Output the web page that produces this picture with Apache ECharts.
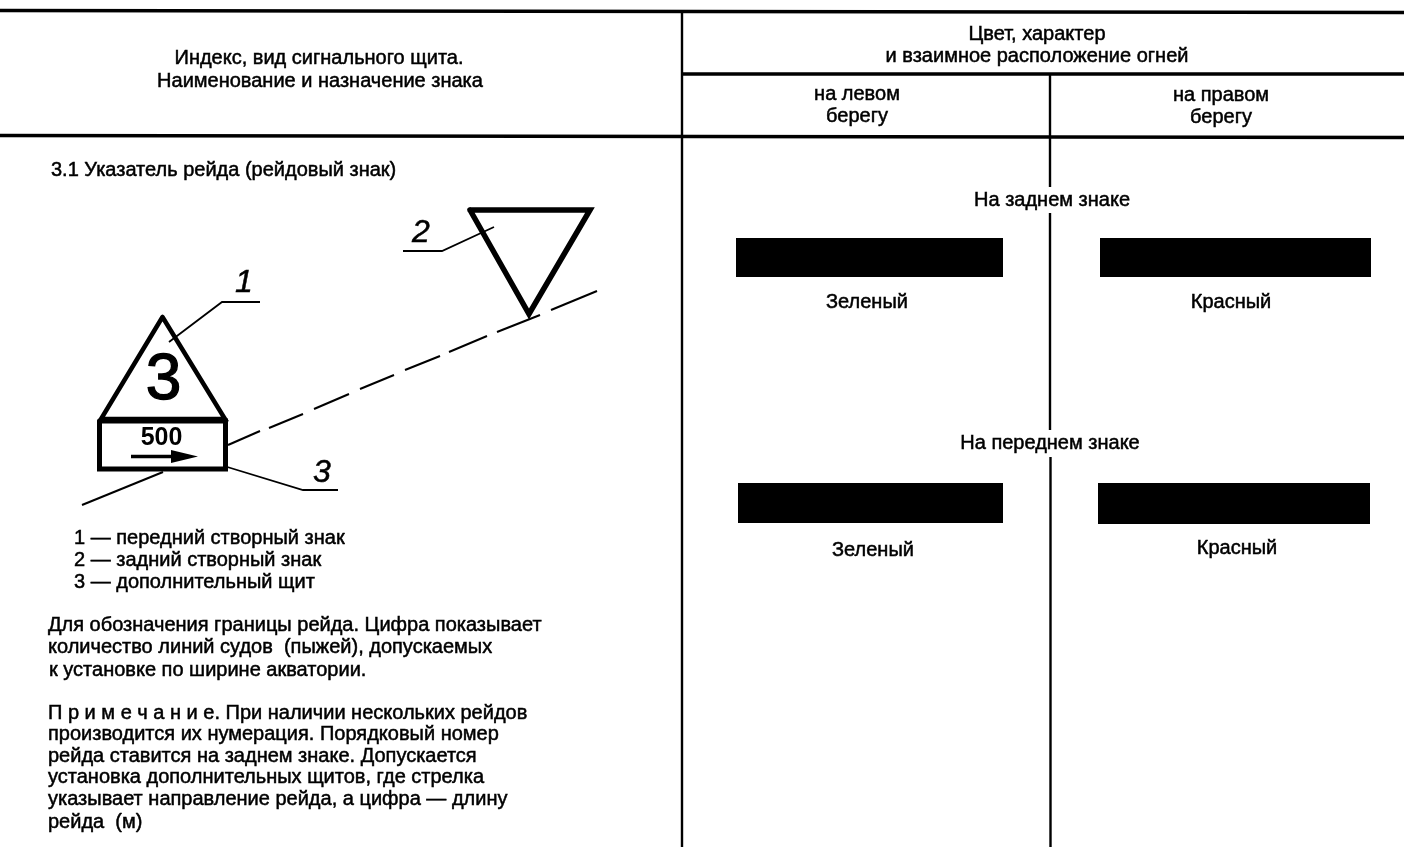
<!DOCTYPE html>
<html><head><meta charset="utf-8">
<style>html,body{margin:0;padding:0;background:#fff}#c{width:1404px;height:847px}</style>
<script src="https://cdn.jsdelivr.net/npm/echarts@6/dist/echarts.min.js"></script>
</head><body><div id="c"></div>
<script>
// Sheet coordinates: x 0..1404, y 0..847 (top-down)
const heavyRules = [
  [[0,10.5],[1404,12.5]],
  [[683,74],[1404,74]],
  [[0,135.5],[1404,137.5]]
];
const verticalRules = [
  [[682,11],[682,847]],
  [[1050,74],[1050,187]],
  [[1050,213],[1050,430]],
  [[1050.5,457],[1050.5,847]]
];
const frontSign = [
  [[162.5,317],[101,419],[225,419],[162.5,317]]
];
const frontPanel = [
  [[99.5,421],[225.5,421],[225.5,469],[99.5,469],[99.5,421]]
];
const backSign = [[[470,210],[590,210],[529,314],[470,210]]];
const leaderLines = [
  [[169,342],[222,302],[260,302]],
  [[403,251],[442,251],[494,227]],
  [[224,466],[303,490],[338,490]]
];
const sightLine = [
  [[82,505],[163,472]],
  [[228,445],[260,431]],[[269,428],[303,414]],[[314,409],[349,394]],
  [[360,389],[394,375]],[[405,370],[440,356]],[[449,352],[487,336]],
  [[497,332],[540,315]],[[551,310],[597,291]]
];
const arrowShaft = [[131,456.5],[172,456.5]];
const arrowHead = [[171,450],[198,456.5],[171,463],[171,450]];
const lightBars = [
  [736,238,1003,277],
  [1100,238,1371,277],
  [738,483,1003,523],
  [1098,483,1370,524]
];
const centeredTexts = [
  [319,58,'Индекс, вид сигнального щита.'],
  [320,81,'Наименование и назначение знака'],
  [1037,34,'Цвет, характер'],
  [1037,56,'и взаимное расположение огней'],
  [857,94,'на левом'],
  [857,116,'берегу'],
  [1221,95,'на правом'],
  [1221,117,'берегу'],
  [1052,200,'На заднем знаке'],
  [867,302,'Зеленый'],
  [1231,302,'Красный'],
  [1050,443,'На переднем знаке'],
  [873,550,'Зеленый'],
  [1237,548,'Красный']
];
const leftTexts = [
  [51,170,'3.1 Указатель рейда (рейдовый знак)'],
  [74,538,'1 — передний створный знак'],
  [74,560,'2 — задний створный знак'],
  [74,582,'3 — дополнительный щит'],
  [48,625,'Для обозначения границы рейда. Цифра показывает'],
  [48,647,'количество линий судов  (пыжей), допускаемых'],
  [49,670,'к установке по ширине акватории.'],
  [48,713,'П р и м е ч а н и е. При наличии нескольких рейдов'],
  [48,734,'производится их нумерация. Порядковый номер'],
  [48,756,'рейда ставится на заднем знаке. Допускается'],
  [48,777,'установка дополнительных щитов, где стрелка'],
  [48,799,'указывает направление рейда, а цифра — длину'],
  [48,822,'рейда  (м)']
];
const calloutNumbers = [[244,283,'1'],[421,233,'2'],[322,473,'3']];
const signNumber = [[163.5,381,'3']];
const signDistance = [[161.5,438,'500']];

const FONT = '"Liberation Sans", Arial, sans-serif';
function lines(paths, width, extra) {
  return paths.map(p => Object.assign({
    type:'line', data:p, showSymbol:false, symbol:'none', silent:true, animation:false,
    lineStyle:{color:'#000', width:width, cap:'butt', join:'miter'}, z:2
  }, extra||{}));
}
function texts(rows, label) {
  return {
    type:'scatter', data:rows, symbolSize:0, silent:true, animation:false, z:5,
    itemStyle:{opacity:1,color:'#000'},
    label:Object.assign({
      show:true, position:'inside', color:'#000', opacity:1, fontFamily:FONT, align:'center', verticalAlign:'middle',
      formatter:p => p.data[2]
    }, label)
  };
}
const roundLine = w => ({lineStyle:{color:'#000',width:w,cap:'round',join:'miter'}});
const chart = echarts.init(document.getElementById('c'), null, {renderer:'canvas'});
chart.setOption({
  animation:false,
  backgroundColor:'#fff',
  grid:{left:0,right:0,top:0,bottom:0,containLabel:false},
  xAxis:{type:'value',min:0,max:1404,show:false},
  yAxis:{type:'value',min:0,max:847,inverse:true,show:false},
  series:[
    ...lines(heavyRules,3.5),
    ...lines(verticalRules,2.4),
    ...lines(frontSign,4.5,roundLine(4.5)),
    ...lines(frontPanel,5,roundLine(5)),
    ...lines(backSign,5.5,roundLine(5.5)),
    ...lines(leaderLines,1.8),
    ...lines(sightLine,2),
    ...lines([arrowShaft],3.5),
    {
      type:'custom', silent:true, animation:false, z:3,
      coordinateSystem:'cartesian2d', data:lightBars,
      encode:{x:[0,2],y:[1,3]},
      renderItem:(params,api)=>{
        const a=api.coord([api.value(0),api.value(1)]), b=api.coord([api.value(2),api.value(3)]);
        return {type:'rect',shape:{x:a[0],y:a[1],width:b[0]-a[0],height:b[1]-a[1]},style:{fill:'#000'}};
      }
    },
    {
      type:'custom', silent:true, animation:false, z:3,
      coordinateSystem:'cartesian2d', data:[0],
      renderItem:(params,api)=>({
        type:'polygon',
        shape:{points:arrowHead.map(p=>api.coord(p))},
        style:{fill:'#000'}
      })
    },
    texts(centeredTexts,{fontSize:20,textBorderColor:'#000',textBorderWidth:0.5}),
    texts(leftTexts,{fontSize:20,align:'left',textBorderColor:'#000',textBorderWidth:0.5}),
    texts(calloutNumbers,{fontSize:32,fontStyle:'italic',textBorderColor:'#000',textBorderWidth:0.5}),
    texts(signNumber,{fontSize:64,textBorderColor:'#000',textBorderWidth:1.4}),
    texts(signDistance,{fontSize:25,fontWeight:'bold'})
  ]
});
</script></body></html>
